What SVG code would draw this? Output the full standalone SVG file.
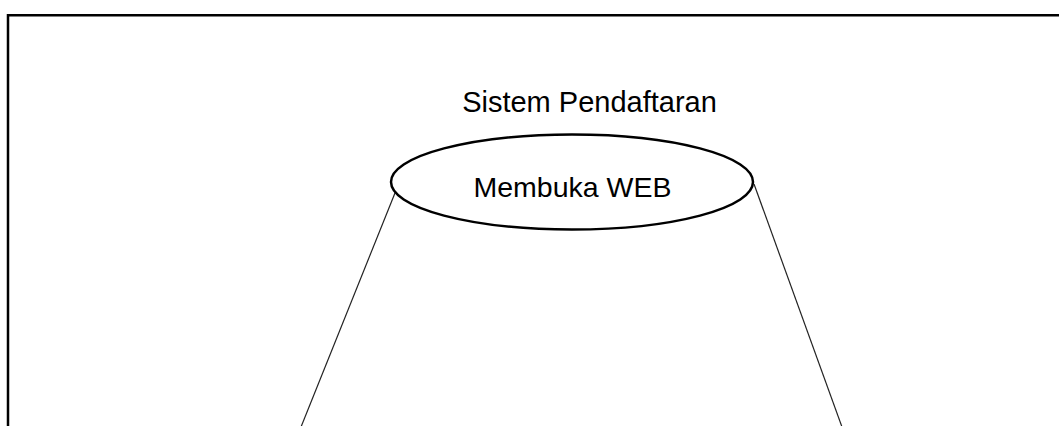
<svg xmlns="http://www.w3.org/2000/svg" width="1059" height="426" viewBox="0 0 1059 426">
<style>
.lbl{font-family:"Liberation Sans",Arial,sans-serif;font-size:28.5px;fill:#000;text-anchor:middle}
.frame{fill:none;stroke:#000;stroke-width:2.5}
.conn{fill:none;stroke:#222;stroke-width:1.2}
</style>
<rect width="1059" height="426" fill="#fff"/>
<g id="frame">
<path class="frame" d="M8,430 V15.3 H1062"/>
<text class="lbl" x="589.5" y="112" style="font-size:29px">Sistem Pendaftaran</text>
</g>
<g id="connectors">
<line class="conn" x1="397" y1="188" x2="301" y2="427"/>
<line class="conn" x1="754" y1="184" x2="842" y2="427"/>
</g>
<g id="node-membuka-web">
<ellipse cx="572" cy="182" rx="181" ry="47.5" fill="#fff" stroke="#000" stroke-width="2.5"/>
<text class="lbl" x="572.5" y="197">Membuka WEB</text>
</g>
</svg>
